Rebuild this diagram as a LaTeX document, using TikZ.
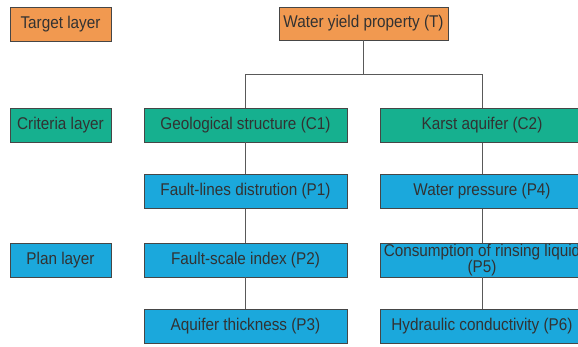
\documentclass[tikz,border=0pt]{standalone}
\usepackage{fontspec}
\setmainfont{Liberation Sans}[FakeStretch=0.9]
\definecolor{orng}{RGB}{241,153,80}
\definecolor{teal1}{RGB}{22,176,143}
\definecolor{blue1}{RGB}{27,168,220}
\definecolor{edge1}{RGB}{70,70,70}
\definecolor{txt1}{RGB}{50,50,50}
\tikzset{
  box/.style={draw=edge1, line width=0.9pt, inner sep=0pt, minimum height=34pt,
    text=txt1, font=\fontsize{17}{16.5}\selectfont, align=center},
  lay/.style={box, minimum width=101pt},
  col/.style={box, minimum width=203pt},
  tgt/.style={fill=orng},
  cri/.style={fill=teal1},
  pln/.style={fill=blue1},
  conn/.style={draw=edge1!90, line width=0.9pt}
}
\begin{document}
\begin{tikzpicture}[x=1pt,y=-1pt]
\useasboundingbox (0,0) rectangle (578,347);
\clip (0,0) rectangle (578,347);
% layer labels
\node[lay,tgt] (Lt) at (60.5,24) {Target layer};
\node[lay,cri] (Lc) at (60.5,125) {Criteria layer};
\node[lay,pln] (Lp) at (60.5,260) {Plan layer};
% target
\node[box,tgt,minimum width=169pt,minimum height=33pt] (T) at (363.5,23.5) {Water yield property (T)};
% left column
\node[col,cri] (C1) at (245.5,125) {Geological structure (C1)};
\node[col,pln] (P1) at (245.5,191.5) {Fault-lines distrution (P1)};
\node[col,pln] (P2) at (245.5,260) {Fault-scale index (P2)};
\node[col,pln] (P3) at (245.5,326) {Aquifer thickness (P3)};
% right column
\node[col,cri] (C2) at (482,125.5) {Karst aquifer (C2)};
\node[col,pln] (P4) at (482,191.5) {Water pressure (P4)};
\node[col,pln] (P5) at (482,260) {Consumption of rinsing liquid\\(P5)};
\node[col,pln] (P6) at (482,326) {Hydraulic conductivity (P6)};
% connectors
\coordinate (bus) at (363.5,74);
\draw[conn] (T.south) -- (bus) -| (C1.north);
\draw[conn] (bus) -| (C2.north);
\draw[conn] (C1) -- (P1);
\draw[conn] (P1) -- (P2);
\draw[conn] (P2) -- (P3);
\draw[conn] (C2) -- (P4);
\draw[conn] (P4) -- (P5);
\draw[conn] (P5) -- (P6);
\end{tikzpicture}
\end{document}
